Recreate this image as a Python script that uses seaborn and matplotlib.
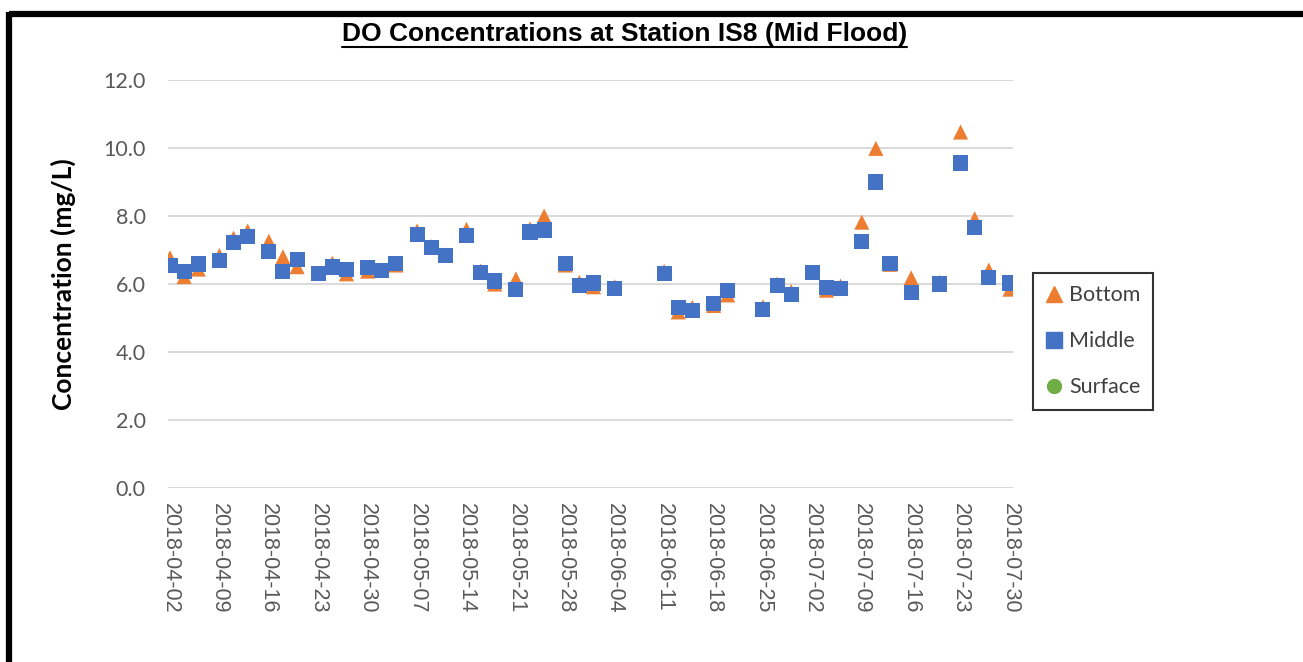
import matplotlib as mpl
import matplotlib.pyplot as plt
import matplotlib.dates as mdates
from matplotlib.lines import Line2D
import seaborn as sns
import pandas as pd
import numpy as np

sns.set_style('white')
plt.rcParams['font.family'] = ['Lato', 'DejaVu Sans']

# sampling dates (Mon / Wed / Fri)
dates = ['2018-04-02', '2018-04-04', '2018-04-06', '2018-04-09', '2018-04-11', '2018-04-13',
         '2018-04-16', '2018-04-18', '2018-04-20', '2018-04-23', '2018-04-25', '2018-04-27',
         '2018-04-30', '2018-05-02', '2018-05-04', '2018-05-07', '2018-05-09', '2018-05-11',
         '2018-05-14', '2018-05-16', '2018-05-18', '2018-05-21', '2018-05-23', '2018-05-25',
         '2018-05-28', '2018-05-30', '2018-06-01', '2018-06-04', '2018-06-11', '2018-06-13',
         '2018-06-15', '2018-06-18', '2018-06-20', '2018-06-25', '2018-06-27', '2018-06-29',
         '2018-07-02', '2018-07-04', '2018-07-06', '2018-07-09', '2018-07-11', '2018-07-13',
         '2018-07-16', '2018-07-20', '2018-07-23', '2018-07-25', '2018-07-27', '2018-07-30']

bottom = [6.77, 6.22, 6.44, 6.84, 7.35, 7.56, 7.26, 6.80, 6.51, 6.32, 6.61, 6.30,
          6.38, 6.41, 6.56, 7.56, 7.10, 6.86, 7.61, 6.38, 6.00, 6.15, 7.62, 8.00,
          6.56, 6.05, 5.92, 5.92, 6.37, 5.18, 5.31, 5.37, 5.68, 5.33, 6.00, 5.78,
          6.35, 5.82, 5.94, 7.82, 9.99, 6.58, 6.18, 6.05, 10.47, 7.92, 6.41, 5.85]

middle = [6.55, 6.38, 6.59, 6.70, 7.21, 7.40, 6.97, 6.38, 6.72, 6.32, 6.50, 6.43,
          6.48, 6.41, 6.61, 7.45, 7.08, 6.83, 7.44, 6.34, 6.09, 5.83, 7.53, 7.59,
          6.60, 5.96, 6.03, 5.86, 6.32, 5.32, 5.22, 5.42, 5.81, 5.26, 5.95, 5.70,
          6.35, 5.91, 5.87, 7.25, 9.00, 6.60, 5.75, 6.00, 9.56, 7.65, 6.19, 6.03]

surface = []  # no surface readings at this station

yticks = [0, 2, 4, 6, 8, 10, 12]

colors = {'Bottom': '#ED7D31', 'Middle': '#4472C4', 'Surface': '#70AD47'}
markers = {'Bottom': '^', 'Middle': 's', 'Surface': 'o'}

df = pd.concat([pd.DataFrame({'date': pd.to_datetime(dates), 'value': bottom, 'depth': 'Bottom'}),
                pd.DataFrame({'date': pd.to_datetime(dates), 'value': middle, 'depth': 'Middle'})],
               ignore_index=True)

fig = plt.figure(figsize=(13.03, 6.62), dpi=100)
ax = fig.add_axes([0.1289, 0.2628, 0.6485, 0.6163])

sns.scatterplot(data=df, x='date', y='value', hue='depth', style='depth',
                palette=colors, markers=markers, s=118, edgecolor='none',
                legend=False, ax=ax, zorder=3)

ax.set_ylim(0, 12)
ax.set_yticks(yticks)
ax.set_yticklabels(['%.1f' % t for t in yticks])
ax.set_xlim(pd.Timestamp('2018-04-02') - pd.Timedelta(hours=7),
            pd.Timestamp('2018-07-30') + pd.Timedelta(hours=10))
ax.xaxis.set_major_locator(mdates.WeekdayLocator(byweekday=mdates.MO))
ax.xaxis.set_major_formatter(mdates.DateFormatter('%Y-%m-%d'))
for lab in ax.get_xticklabels():
    lab.set_rotation(270)
    lab.set_family(['Liberation Sans', 'DejaVu Sans'])
ax.tick_params(axis='x', labelsize=15.5, colors='#595959', length=0, pad=11)
ax.tick_params(axis='y', labelsize=15.5, colors='#595959', length=0, pad=16)
ax.yaxis.grid(True, color='#d9d9d9', lw=1.4, zorder=0)
ax.xaxis.grid(False)
ax.set_axisbelow(True)
for sp in ax.spines.values():
    sp.set_visible(False)
ax.set_xlabel('')
ax.set_ylabel('Concentration (mg/L)', fontsize=19, fontweight='bold', color='black', labelpad=20)

# legend
handles = [Line2D([], [], ls='none', marker=markers[k], color=colors[k], markersize=11 if k != 'Surface' else 10)
           for k in ['Bottom', 'Middle', 'Surface']]
leg = fig.legend(handles, ['Bottom', 'Middle', 'Surface'], loc='upper left',
                 bbox_to_anchor=(0.7928, 0.5876), frameon=True, fancybox=False,
                 fontsize=15.5, labelcolor='#404040', handlelength=0.8, handletextpad=0.3,
                 labelspacing=1.2, borderpad=0.58, borderaxespad=0)
leg.get_frame().set_edgecolor('black')
leg.get_frame().set_linewidth(1.5)

# title, underlined
title = fig.text(0.479, 0.949, 'DO Concentrations at Station IS8 (Mid Flood)',
                 ha='center', va='center', fontsize=19, fontweight='bold',
                 family=['Liberation Sans Narrow', 'Liberation Sans'], color='black')
fig.canvas.draw()
bb = title.get_window_extent().transformed(fig.transFigure.inverted())
fig.add_artist(Line2D([bb.x0, bb.x1], [bb.y0 - 0.002, bb.y0 - 0.002], color='black', lw=1.5))

# outer frame (top and left)
fig.add_artist(Line2D([0.0069, 1.0], [0.9789, 0.9789], color='black', lw=4.5, solid_capstyle='butt'))
fig.add_artist(Line2D([0.0069, 0.0069], [0.0, 0.9789 + 0.0034], color='black', lw=4.5, solid_capstyle='butt'))

fig.savefig('out.png', dpi=100, facecolor='white')
